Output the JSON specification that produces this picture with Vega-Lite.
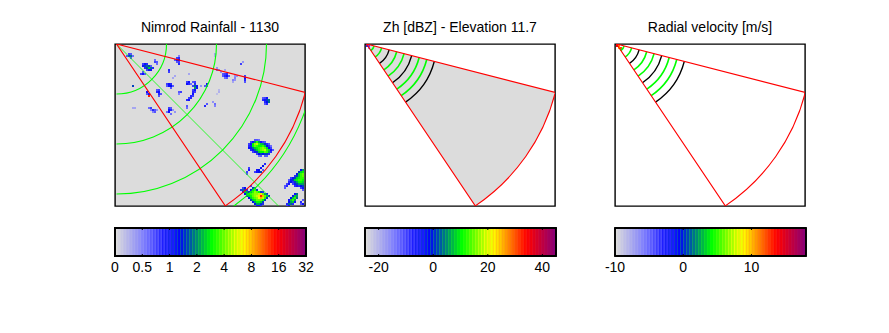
{"$schema":"https://vega.github.io/schema/vega-lite/v6.json","autosize":{"type":"none"},"padding":{"left":115,"top":44,"right":774,"bottom":289},"background":"white","bounds":"flush","spacing":250,"config":{"font":"Liberation Sans","title":{"font":"Liberation Sans","fontSize":14,"fontWeight":"normal","color":"black","offset":9},"axis":{"labelFont":"Liberation Sans"}},
"datasets":{
"bar":[{"l":0,"n":1},{"l":1,"n":2},{"l":2,"n":3},{"l":3,"n":4},{"l":4,"n":5},{"l":5,"n":6},{"l":6,"n":7},{"l":7,"n":8},{"l":8,"n":9},{"l":9,"n":10},{"l":10,"n":11},{"l":11,"n":12},{"l":12,"n":13},{"l":13,"n":14},{"l":14,"n":15},{"l":15,"n":16},{"l":16,"n":17},{"l":17,"n":18},{"l":18,"n":19},{"l":19,"n":20},{"l":20,"n":21},{"l":21,"n":22},{"l":22,"n":23},{"l":23,"n":24},{"l":24,"n":25},{"l":25,"n":26},{"l":26,"n":27},{"l":27,"n":28},{"l":28,"n":29},{"l":29,"n":30},{"l":30,"n":31},{"l":31,"n":32},{"l":32,"n":33},{"l":33,"n":34},{"l":34,"n":35},{"l":35,"n":36},{"l":36,"n":37},{"l":37,"n":38},{"l":38,"n":39},{"l":39,"n":40},{"l":40,"n":41},{"l":41,"n":42},{"l":42,"n":43},{"l":43,"n":44},{"l":44,"n":45},{"l":45,"n":46},{"l":46,"n":47},{"l":47,"n":48},{"l":48,"n":49},{"l":49,"n":50},{"l":50,"n":51},{"l":51,"n":52},{"l":52,"n":53},{"l":53,"n":54},{"l":54,"n":55},{"l":55,"n":56},{"l":56,"n":57},{"l":57,"n":58},{"l":58,"n":59},{"l":59,"n":60},{"l":60,"n":61},{"l":61,"n":62},{"l":62,"n":63},{"l":63,"n":64}],
"tRain":[{"p":0,"t":"0"},{"p":9.143,"t":"0.5"},{"p":18.286,"t":"1"},{"p":27.429,"t":"2"},{"p":36.571,"t":"4"},{"p":45.714,"t":"8"},{"p":54.857,"t":"16"},{"p":64,"t":"32"}],
"tZh":[{"p":4.571,"t":"-20"},{"p":22.857,"t":"0"},{"p":41.143,"t":"20"},{"p":59.429,"t":"40"}],
"tVel":[{"p":0,"t":"-10"},{"p":22.857,"t":"0"},{"p":45.714,"t":"10"}],
"ringsWide":[{"r":25},{"r":50},{"r":75},{"r":100}],
"ringsGreen":[{"r":3.9},{"r":7.8},{"r":15.6},{"r":19.4},{"r":27.2},{"r":31.1}],
"ringsBlack":[{"r":11.67},{"r":23.33},{"r":35}],
"sector":[{"r":97.5,"r0":0}],
"diag":[{"x":0.75,"y":0},{"x":82,"y":81.25}],
"zh":[{"x":1,"y":1,"v":18},{"x":2,"y":1,"v":14},{"x":2,"y":2,"v":8},{"x":1,"y":0,"v":20}],
"vel":[{"x":1,"y":0,"v":52},{"x":1,"y":1,"v":55},{"x":2,"y":1,"v":47},{"x":2,"y":2,"v":44},{"x":3,"y":2,"v":50},{"x":3,"y":3,"v":42}],
"rain":[
{"x":7,"y":5,"v":16},{"x":8,"y":5,"v":14},{"x":6,"y":6,"v":14},{"x":7,"y":6,"v":20},{"x":8,"y":6,"v":26},{"x":9,"y":6,"v":12},{"x":8,"y":7,"v":14},
{"x":14,"y":10,"v":16},{"x":15,"y":10,"v":20},{"x":16,"y":10,"v":18},{"x":14,"y":11,"v":20},{"x":15,"y":11,"v":24},{"x":16,"y":11,"v":26},{"x":17,"y":11,"v":24},{"x":18,"y":11,"v":14},{"x":15,"y":12,"v":18},{"x":16,"y":12,"v":24},{"x":17,"y":12,"v":30},{"x":18,"y":12,"v":26},{"x":19,"y":12,"v":18},{"x":16,"y":13,"v":16},{"x":17,"y":13,"v":22},{"x":18,"y":13,"v":20},{"x":13,"y":15,"v":16},{"x":14,"y":15,"v":20},{"x":15,"y":15,"v":14},{"x":14,"y":14,"v":14},
{"x":20,"y":8,"v":12},{"x":20,"y":9,"v":16},{"x":21,"y":9,"v":14},{"x":21,"y":10,"v":12},
{"x":31,"y":7,"v":16},{"x":32,"y":7,"v":18},{"x":30,"y":8,"v":14},{"x":31,"y":8,"v":20},{"x":32,"y":8,"v":22},{"x":32,"y":9,"v":16},{"x":31,"y":9,"v":14},{"x":32,"y":10,"v":18},{"x":32,"y":6,"v":10},
{"x":27,"y":13,"v":18},{"x":27,"y":14,"v":16},{"x":37,"y":15,"v":6},{"x":30,"y":16,"v":6},{"x":29,"y":17,"v":6},
{"x":26,"y":20,"v":16},{"x":27,"y":20,"v":20},{"x":28,"y":20,"v":18},{"x":26,"y":21,"v":14},{"x":27,"y":21,"v":20},{"x":28,"y":21,"v":22},{"x":29,"y":21,"v":14},{"x":28,"y":22,"v":14},
{"x":21,"y":23,"v":14},{"x":22,"y":23,"v":16},{"x":21,"y":24,"v":18},{"x":22,"y":24,"v":20},{"x":22,"y":25,"v":18},{"x":23,"y":25,"v":14},{"x":22,"y":26,"v":14},
{"x":16,"y":24,"v":20},{"x":17,"y":25,"v":20},{"x":16,"y":25,"v":14},{"x":17,"y":26,"v":52},
{"x":9,"y":21,"v":24},{"x":10,"y":32,"v":6},{"x":9,"y":32,"v":6},
{"x":17,"y":32,"v":12},{"x":18,"y":32,"v":16},{"x":19,"y":33,"v":18},{"x":20,"y":33,"v":14},{"x":18,"y":33,"v":10},{"x":20,"y":34,"v":14},{"x":19,"y":34,"v":10},{"x":21,"y":33,"v":8},
{"x":27,"y":32,"v":16},{"x":28,"y":32,"v":14},{"x":27,"y":33,"v":20},{"x":28,"y":33,"v":18},{"x":27,"y":34,"v":20},{"x":29,"y":33,"v":8},{"x":26,"y":34,"v":12},{"x":28,"y":35,"v":12},{"x":30,"y":34,"v":8},
{"x":36,"y":19,"v":16},{"x":37,"y":19,"v":20},{"x":36,"y":20,"v":20},{"x":37,"y":20,"v":18},{"x":38,"y":20,"v":12},{"x":39,"y":19,"v":14},{"x":40,"y":19,"v":16},{"x":40,"y":20,"v":18},{"x":39,"y":21,"v":16},{"x":40,"y":21,"v":26},{"x":41,"y":21,"v":20},{"x":40,"y":22,"v":28},{"x":41,"y":22,"v":20},{"x":39,"y":23,"v":16},{"x":40,"y":23,"v":20},{"x":39,"y":24,"v":18},{"x":40,"y":24,"v":16},{"x":39,"y":25,"v":20},{"x":38,"y":26,"v":18},{"x":39,"y":26,"v":16},{"x":37,"y":27,"v":16},{"x":38,"y":27,"v":18},{"x":36,"y":28,"v":18},{"x":37,"y":28,"v":20},{"x":36,"y":32,"v":12},{"x":36,"y":31,"v":14},
{"x":32,"y":24,"v":14},{"x":33,"y":24,"v":16},{"x":32,"y":25,"v":10},{"x":46,"y":20,"v":20},{"x":45,"y":21,"v":14},{"x":46,"y":21,"v":16},{"x":43,"y":21,"v":8},{"x":45,"y":31,"v":18},{"x":46,"y":30,"v":14},{"x":49,"y":29,"v":8},{"x":50,"y":30,"v":12},{"x":50,"y":31,"v":10},{"x":52,"y":23,"v":4},{"x":52,"y":24,"v":5},{"x":51,"y":25,"v":3},{"x":50,"y":5,"v":6},{"x":50,"y":6,"v":5},
{"x":51,"y":12,"v":8},{"x":52,"y":13,"v":10},{"x":51,"y":13,"v":12},{"x":53,"y":14,"v":8},{"x":55,"y":13,"v":6},{"x":54,"y":15,"v":14},{"x":55,"y":15,"v":16},{"x":56,"y":15,"v":18},{"x":54,"y":16,"v":14},{"x":55,"y":16,"v":18},{"x":56,"y":16,"v":20},{"x":57,"y":16,"v":14},{"x":55,"y":17,"v":12},{"x":56,"y":17,"v":14},
{"x":60,"y":16,"v":8},{"x":61,"y":16,"v":8},{"x":60,"y":17,"v":10},{"x":59,"y":18,"v":10},{"x":60,"y":18,"v":8},{"x":59,"y":19,"v":6},{"x":65,"y":16,"v":16},{"x":65,"y":17,"v":20},{"x":65,"y":18,"v":18},{"x":65,"y":19,"v":14},{"x":63,"y":10,"v":16},{"x":64,"y":9,"v":8},
{"x":74,"y":27,"v":14},{"x":75,"y":27,"v":16},{"x":76,"y":27,"v":20},{"x":74,"y":28,"v":18},{"x":75,"y":28,"v":20},{"x":76,"y":28,"v":24},{"x":77,"y":28,"v":26},{"x":75,"y":29,"v":18},{"x":76,"y":29,"v":22},{"x":77,"y":29,"v":26},{"x":75,"y":30,"v":14},{"x":76,"y":30,"v":18},
{"x":70,"y":48,"v":14},{"x":71,"y":48,"v":14},{"x":72,"y":48,"v":12},
{"x":68,"y":49,"v":16},{"x":69,"y":49,"v":20},{"x":70,"y":49,"v":28},{"x":71,"y":49,"v":34},{"x":72,"y":49,"v":28},{"x":73,"y":49,"v":20},{"x":74,"y":49,"v":16},{"x":75,"y":49,"v":14},
{"x":67,"y":50,"v":16},{"x":68,"y":50,"v":20},{"x":69,"y":50,"v":32},{"x":70,"y":50,"v":38},{"x":71,"y":50,"v":40},{"x":72,"y":50,"v":34},{"x":73,"y":50,"v":30},{"x":74,"y":50,"v":28},{"x":75,"y":50,"v":24},{"x":76,"y":50,"v":18},{"x":77,"y":50,"v":14},
{"x":67,"y":51,"v":18},{"x":68,"y":51,"v":24},{"x":69,"y":51,"v":32},{"x":70,"y":51,"v":36},{"x":71,"y":51,"v":34},{"x":72,"y":51,"v":32},{"x":73,"y":51,"v":32},{"x":74,"y":51,"v":34},{"x":75,"y":51,"v":30},{"x":76,"y":51,"v":22},{"x":77,"y":51,"v":18},{"x":78,"y":51,"v":12},
{"x":67,"y":52,"v":20},{"x":68,"y":52,"v":20},{"x":69,"y":52,"v":26},{"x":70,"y":52,"v":30},{"x":71,"y":52,"v":32},{"x":72,"y":52,"v":34},{"x":73,"y":52,"v":36},{"x":74,"y":52,"v":38},{"x":75,"y":52,"v":36},{"x":76,"y":52,"v":30},{"x":77,"y":52,"v":22},{"x":78,"y":52,"v":16},
{"x":68,"y":53,"v":18},{"x":69,"y":53,"v":20},{"x":70,"y":53,"v":26},{"x":71,"y":53,"v":30},{"x":72,"y":53,"v":34},{"x":73,"y":53,"v":36},{"x":74,"y":53,"v":38},{"x":75,"y":53,"v":40},{"x":76,"y":53,"v":34},{"x":77,"y":53,"v":30},{"x":78,"y":53,"v":20},{"x":79,"y":53,"v":14},
{"x":69,"y":54,"v":16},{"x":70,"y":54,"v":20},{"x":71,"y":54,"v":24},{"x":72,"y":54,"v":30},{"x":73,"y":54,"v":32},{"x":74,"y":54,"v":32},{"x":75,"y":54,"v":36},{"x":76,"y":54,"v":34},{"x":77,"y":54,"v":28},{"x":78,"y":54,"v":18},
{"x":71,"y":55,"v":16},{"x":72,"y":55,"v":22},{"x":73,"y":55,"v":24},{"x":74,"y":55,"v":22},{"x":75,"y":55,"v":24},{"x":76,"y":55,"v":24},{"x":77,"y":55,"v":18},
{"x":72,"y":56,"v":12},{"x":73,"y":56,"v":14},{"x":75,"y":56,"v":14},{"x":76,"y":56,"v":14},
{"x":67,"y":62,"v":16},{"x":67,"y":63,"v":20},{"x":66,"y":64,"v":16},{"x":66,"y":65,"v":14},{"x":75,"y":60,"v":18},{"x":74,"y":61,"v":22},{"x":73,"y":62,"v":20},{"x":71,"y":63,"v":20},{"x":72,"y":63,"v":22},{"x":74,"y":63,"v":14},{"x":70,"y":64,"v":16},{"x":71,"y":64,"v":20},{"x":72,"y":64,"v":22},{"x":73,"y":64,"v":24},
{"x":68,"y":71,"v":16},
{"x":64,"y":72,"v":16},{"x":65,"y":72,"v":22},{"x":69,"y":72,"v":24},{"x":70,"y":72,"v":28},
{"x":63,"y":73,"v":18},{"x":64,"y":73,"v":26},{"x":65,"y":73,"v":24},{"x":66,"y":73,"v":18},{"x":68,"y":73,"v":22},{"x":69,"y":73,"v":30},{"x":70,"y":73,"v":34},{"x":71,"y":73,"v":24},
{"x":64,"y":74,"v":20},{"x":65,"y":74,"v":30},{"x":66,"y":74,"v":28},{"x":67,"y":74,"v":24},{"x":68,"y":74,"v":28},{"x":69,"y":74,"v":34},{"x":70,"y":74,"v":38},{"x":71,"y":74,"v":36},{"x":72,"y":74,"v":32},{"x":73,"y":74,"v":24},{"x":74,"y":74,"v":18},
{"x":65,"y":75,"v":22},{"x":66,"y":75,"v":30},{"x":67,"y":75,"v":32},{"x":68,"y":75,"v":34},{"x":69,"y":75,"v":36},{"x":70,"y":75,"v":38},{"x":71,"y":75,"v":38},{"x":72,"y":75,"v":40},{"x":73,"y":75,"v":44},{"x":74,"y":75,"v":36},{"x":75,"y":75,"v":28},{"x":76,"y":75,"v":20},
{"x":66,"y":76,"v":24},{"x":67,"y":76,"v":30},{"x":68,"y":76,"v":32},{"x":69,"y":76,"v":36},{"x":70,"y":76,"v":38},{"x":71,"y":76,"v":40},{"x":72,"y":76,"v":44},{"x":73,"y":76,"v":52},{"x":74,"y":76,"v":46},{"x":75,"y":76,"v":36},{"x":76,"y":76,"v":30},{"x":77,"y":76,"v":20},
{"x":67,"y":77,"v":22},{"x":68,"y":77,"v":30},{"x":69,"y":77,"v":34},{"x":70,"y":77,"v":36},{"x":71,"y":77,"v":38},{"x":72,"y":77,"v":42},{"x":73,"y":77,"v":46},{"x":74,"y":77,"v":40},{"x":75,"y":77,"v":34},{"x":76,"y":77,"v":24},
{"x":68,"y":78,"v":24},{"x":69,"y":78,"v":30},{"x":70,"y":78,"v":32},{"x":71,"y":78,"v":36},{"x":72,"y":78,"v":36},{"x":73,"y":78,"v":36},{"x":74,"y":78,"v":32},{"x":75,"y":78,"v":24},
{"x":69,"y":79,"v":22},{"x":70,"y":79,"v":28},{"x":71,"y":79,"v":32},{"x":72,"y":79,"v":32},{"x":73,"y":79,"v":30},{"x":74,"y":79,"v":24},
{"x":70,"y":80,"v":22},{"x":71,"y":80,"v":28},{"x":72,"y":80,"v":28},{"x":73,"y":80,"v":24},{"x":74,"y":80,"v":18},{"x":71,"y":81,"v":20},{"x":72,"y":81,"v":20},{"x":73,"y":81,"v":18},
{"x":93,"y":63,"v":22},{"x":94,"y":63,"v":28},{"x":92,"y":64,"v":24},{"x":93,"y":64,"v":30},{"x":94,"y":64,"v":32},{"x":91,"y":65,"v":22},{"x":92,"y":65,"v":30},{"x":93,"y":65,"v":34},{"x":94,"y":65,"v":36},{"x":90,"y":66,"v":18},{"x":91,"y":66,"v":24},{"x":92,"y":66,"v":30},{"x":93,"y":66,"v":34},{"x":94,"y":66,"v":36},
{"x":88,"y":67,"v":16},{"x":89,"y":67,"v":20},{"x":90,"y":67,"v":24},{"x":91,"y":67,"v":30},{"x":92,"y":67,"v":32},{"x":93,"y":67,"v":34},{"x":94,"y":67,"v":34},
{"x":87,"y":68,"v":14},{"x":88,"y":68,"v":20},{"x":89,"y":68,"v":24},{"x":90,"y":68,"v":30},{"x":91,"y":68,"v":32},{"x":92,"y":68,"v":34},{"x":93,"y":68,"v":34},{"x":94,"y":68,"v":32},
{"x":87,"y":69,"v":18},{"x":88,"y":69,"v":22},{"x":89,"y":69,"v":18},{"x":90,"y":69,"v":24},{"x":91,"y":69,"v":28},{"x":92,"y":69,"v":32},{"x":93,"y":69,"v":32},{"x":94,"y":69,"v":30},
{"x":86,"y":70,"v":16},{"x":87,"y":70,"v":20},{"x":89,"y":70,"v":16},{"x":90,"y":70,"v":20},{"x":91,"y":70,"v":24},{"x":92,"y":70,"v":28},{"x":93,"y":70,"v":28},{"x":94,"y":70,"v":28},
{"x":85,"y":71,"v":14},{"x":86,"y":71,"v":18},{"x":90,"y":71,"v":18},{"x":91,"y":71,"v":20},{"x":92,"y":71,"v":18},{"x":93,"y":71,"v":22},{"x":94,"y":71,"v":24},{"x":85,"y":72,"v":14},{"x":93,"y":72,"v":16},{"x":94,"y":72,"v":20},{"x":94,"y":73,"v":14},
{"x":90,"y":75,"v":20},{"x":91,"y":75,"v":26},{"x":89,"y":76,"v":20},{"x":90,"y":76,"v":30},{"x":91,"y":76,"v":28},{"x":88,"y":77,"v":22},{"x":89,"y":77,"v":30},{"x":90,"y":77,"v":34},{"x":91,"y":77,"v":26},{"x":87,"y":78,"v":20},{"x":88,"y":78,"v":30},{"x":89,"y":78,"v":34},{"x":90,"y":78,"v":28},{"x":87,"y":79,"v":22},{"x":88,"y":79,"v":28},{"x":89,"y":79,"v":30},{"x":90,"y":79,"v":20},{"x":86,"y":80,"v":18},{"x":87,"y":80,"v":26},{"x":88,"y":80,"v":26},{"x":89,"y":80,"v":18},{"x":86,"y":81,"v":16},{"x":87,"y":81,"v":20},
{"x":94,"y":78,"v":14},{"x":93,"y":79,"v":18},{"x":94,"y":80,"v":20},{"x":93,"y":80,"v":14}
]},
"hconcat":[
{"bounds":"flush","spacing":22,"vconcat":[
{"title":"Nimrod Rainfall - 1130","width":190,"height":162,"view":{"fill":"#dcdcdc","stroke":"black","strokeWidth":1.4},
"layer":[
{"data":{"name":"rain"},"mark":{"type":"square","size":4,"opacity":1,"clip":true},"encoding":{"x":{"field":"x","type":"quantitative","scale":{"domain":[0,95],"nice":false,"zero":false},"axis":null},"y":{"field":"y","type":"quantitative","scale":{"domain":[0,81],"reverse":true,"nice":false,"zero":false},"axis":null},"color":{"field":"v","type":"quantitative","legend":null,"scale":{"interpolate":"rgb","domain":[0,11,20,30,40,55,64],"range":["#dcdcdc","#7a7aff","#0000ff","#00ff00","#ffff00","#ff0000","#800080"]}}}},
{"data":{"name":"ringsWide"},"mark":{"type":"arc","filled":false,"stroke":"#00ff00","strokeWidth":1.1,"clip":true},"encoding":{"x":{"datum":0.75,"type":"quantitative"},"y":{"datum":0,"type":"quantitative"},"theta":{"datum":90,"type":"quantitative","scale":{"domain":[0,360],"range":[0,6.2832]}},"theta2":{"datum":180},"radius":{"field":"r","type":"quantitative","scale":{"type":"linear","domain":[0,100],"range":[0,200]}},"radius2":{"field":"r"}}},
{"data":{"name":"diag"},"mark":{"type":"line","stroke":"#00ff00","strokeWidth":0.8,"clip":true},"encoding":{"x":{"field":"x","type":"quantitative"},"y":{"field":"y","type":"quantitative"}}},
{"data":{"name":"sector"},"mark":{"type":"arc","filled":false,"stroke":"#ff0000","strokeWidth":1.1,"clip":true},"encoding":{"x":{"datum":0.75,"type":"quantitative"},"y":{"datum":0,"type":"quantitative"},"theta":{"datum":104.4,"type":"quantitative","scale":{"domain":[0,360],"range":[0,6.2832]}},"theta2":{"datum":146.1},"radius":{"field":"r","type":"quantitative","scale":{"type":"linear","domain":[0,100],"range":[0,200]}},"radius2":{"field":"r0"}}}
]},
{"width":191,"height":28,"view":{"stroke":null},"layer":[
{"data":{"name":"bar"},"mark":{"type":"rect","strokeWidth":0.7},"encoding":{"x":{"field":"l","type":"quantitative","scale":{"domain":[0,64],"nice":false,"zero":false},"axis":null},"x2":{"field":"n"},"color":{"field":"l","type":"quantitative","legend":null,"scale":{"interpolate":"rgb","domain":[0,9,16,32,40,55,64],"range":["#dcdcdc","#7a7aff","#0000ff","#00ff00","#ffff00","#ff0000","#800080"]}},"stroke":{"field":"l","type":"quantitative","legend":null,"scale":{"interpolate":"rgb","domain":[0,9,16,32,40,55,64],"range":["#dcdcdc","#7a7aff","#0000ff","#00ff00","#ffff00","#ff0000","#800080"]}}}},
{"data":{"name":"tRain"},"mark":{"type":"rule","color":"black","strokeWidth":1},"encoding":{"x":{"field":"p","type":"quantitative"},"y":{"datum":0,"type":"quantitative","scale":{"domain":[0,28],"reverse":true,"nice":false,"zero":false},"axis":null},"y2":{"datum":2}}},
{"data":{"name":"tRain"},"mark":{"type":"rule","color":"black","strokeWidth":1},"encoding":{"x":{"field":"p","type":"quantitative"},"y":{"datum":26,"type":"quantitative"},"y2":{"datum":28}}},
{"data":{"name":"tRain"},"mark":{"type":"text","color":"black","font":"Liberation Sans","fontSize":14,"baseline":"middle"},"encoding":{"x":{"field":"p","type":"quantitative"},"y":{"datum":40,"type":"quantitative"},"text":{"field":"t","type":"nominal"}}},
{"data":{"name":"tRain"},"mark":{"type":"rect","filled":false,"stroke":"black","strokeWidth":1.3},"encoding":{"x":{"datum":0,"type":"quantitative"},"x2":{"datum":64}}}
]}
]},
{"bounds":"flush","spacing":22,"vconcat":[
{"title":"Zh [dBZ] - Elevation 11.7","width":190,"height":162,"view":{"stroke":"black","strokeWidth":1.4},
"layer":[
{"data":{"name":"sector"},"mark":{"type":"arc","fill":"#dcdcdc","stroke":null,"clip":true},"encoding":{"x":{"datum":0.75,"type":"quantitative","scale":{"domain":[0,95],"nice":false,"zero":false},"axis":null},"y":{"datum":0,"type":"quantitative","scale":{"domain":[0,81],"reverse":true,"nice":false,"zero":false},"axis":null},"theta":{"datum":104.4,"type":"quantitative","scale":{"domain":[0,360],"range":[0,6.2832]}},"theta2":{"datum":146.1},"radius":{"field":"r","type":"quantitative","scale":{"type":"linear","domain":[0,100],"range":[0,200]}},"radius2":{"field":"r0"}}},
{"data":{"name":"zh"},"mark":{"type":"square","size":4,"opacity":1,"clip":true},"encoding":{"x":{"field":"x","type":"quantitative"},"y":{"field":"y","type":"quantitative"},"color":{"field":"v","type":"quantitative","legend":null,"scale":{"interpolate":"rgb","domain":[0,9,16,32,40,55,64],"range":["#dcdcdc","#7a7aff","#0000ff","#00ff00","#ffff00","#ff0000","#800080"]}}}},
{"data":{"name":"ringsGreen"},"mark":{"type":"arc","filled":false,"stroke":"#00ff00","strokeWidth":1.6,"clip":true},"encoding":{"x":{"datum":0.75,"type":"quantitative"},"y":{"datum":0,"type":"quantitative"},"theta":{"datum":104.4,"type":"quantitative"},"theta2":{"datum":146.1},"radius":{"field":"r","type":"quantitative"},"radius2":{"field":"r"}}},
{"data":{"name":"ringsBlack"},"mark":{"type":"arc","filled":false,"stroke":"black","strokeWidth":1.4,"clip":true},"encoding":{"x":{"datum":0.75,"type":"quantitative"},"y":{"datum":0,"type":"quantitative"},"theta":{"datum":104.4,"type":"quantitative"},"theta2":{"datum":146.1},"radius":{"field":"r","type":"quantitative"},"radius2":{"field":"r"}}},
{"data":{"name":"sector"},"mark":{"type":"arc","filled":false,"stroke":"#ff0000","strokeWidth":1.1,"clip":true},"encoding":{"x":{"datum":0.75,"type":"quantitative"},"y":{"datum":0,"type":"quantitative"},"theta":{"datum":104.4,"type":"quantitative"},"theta2":{"datum":146.1},"radius":{"field":"r","type":"quantitative"},"radius2":{"field":"r0"}}}
]},
{"width":191,"height":28,"view":{"stroke":null},"layer":[
{"data":{"name":"bar"},"mark":{"type":"rect","strokeWidth":0.7},"encoding":{"x":{"field":"l","type":"quantitative","scale":{"domain":[0,64],"nice":false,"zero":false},"axis":null},"x2":{"field":"n"},"color":{"field":"l","type":"quantitative","legend":null,"scale":{"interpolate":"rgb","domain":[0,9,16,32,40,55,64],"range":["#dcdcdc","#7a7aff","#0000ff","#00ff00","#ffff00","#ff0000","#800080"]}},"stroke":{"field":"l","type":"quantitative","legend":null,"scale":{"interpolate":"rgb","domain":[0,9,16,32,40,55,64],"range":["#dcdcdc","#7a7aff","#0000ff","#00ff00","#ffff00","#ff0000","#800080"]}}}},
{"data":{"name":"tZh"},"mark":{"type":"rule","color":"black","strokeWidth":1},"encoding":{"x":{"field":"p","type":"quantitative"},"y":{"datum":0,"type":"quantitative","scale":{"domain":[0,28],"reverse":true,"nice":false,"zero":false},"axis":null},"y2":{"datum":2}}},
{"data":{"name":"tZh"},"mark":{"type":"rule","color":"black","strokeWidth":1},"encoding":{"x":{"field":"p","type":"quantitative"},"y":{"datum":26,"type":"quantitative"},"y2":{"datum":28}}},
{"data":{"name":"tZh"},"mark":{"type":"text","color":"black","font":"Liberation Sans","fontSize":14,"baseline":"middle"},"encoding":{"x":{"field":"p","type":"quantitative"},"y":{"datum":40,"type":"quantitative"},"text":{"field":"t","type":"nominal"}}},
{"data":{"name":"tZh"},"mark":{"type":"rect","filled":false,"stroke":"black","strokeWidth":1.3},"encoding":{"x":{"datum":0,"type":"quantitative"},"x2":{"datum":64}}}
]}
]},
{"bounds":"flush","spacing":22,"vconcat":[
{"title":"Radial velocity [m/s]","width":190,"height":162,"view":{"stroke":"black","strokeWidth":1.4},
"layer":[
{"data":{"name":"vel"},"mark":{"type":"square","size":4,"opacity":1,"clip":true},"encoding":{"x":{"field":"x","type":"quantitative","scale":{"domain":[0,95],"nice":false,"zero":false},"axis":null},"y":{"field":"y","type":"quantitative","scale":{"domain":[0,81],"reverse":true,"nice":false,"zero":false},"axis":null},"color":{"field":"v","type":"quantitative","legend":null,"scale":{"interpolate":"rgb","domain":[0,9,16,32,40,55,64],"range":["#dcdcdc","#7a7aff","#0000ff","#00ff00","#ffff00","#ff0000","#800080"]}}}},
{"data":{"name":"ringsGreen"},"mark":{"type":"arc","filled":false,"stroke":"#00ff00","strokeWidth":1.6,"clip":true},"encoding":{"x":{"datum":0.75,"type":"quantitative"},"y":{"datum":0,"type":"quantitative"},"theta":{"datum":104.4,"type":"quantitative","scale":{"domain":[0,360],"range":[0,6.2832]}},"theta2":{"datum":146.1},"radius":{"field":"r","type":"quantitative","scale":{"type":"linear","domain":[0,100],"range":[0,200]}},"radius2":{"field":"r"}}},
{"data":{"name":"ringsBlack"},"mark":{"type":"arc","filled":false,"stroke":"black","strokeWidth":1.4,"clip":true},"encoding":{"x":{"datum":0.75,"type":"quantitative"},"y":{"datum":0,"type":"quantitative"},"theta":{"datum":104.4,"type":"quantitative"},"theta2":{"datum":146.1},"radius":{"field":"r","type":"quantitative"},"radius2":{"field":"r"}}},
{"data":{"name":"sector"},"mark":{"type":"arc","filled":false,"stroke":"#ff0000","strokeWidth":1.1,"clip":true},"encoding":{"x":{"datum":0.75,"type":"quantitative"},"y":{"datum":0,"type":"quantitative"},"theta":{"datum":104.4,"type":"quantitative"},"theta2":{"datum":146.1},"radius":{"field":"r","type":"quantitative"},"radius2":{"field":"r0"}}}
]},
{"width":191,"height":28,"view":{"stroke":null},"layer":[
{"data":{"name":"bar"},"mark":{"type":"rect","strokeWidth":0.7},"encoding":{"x":{"field":"l","type":"quantitative","scale":{"domain":[0,64],"nice":false,"zero":false},"axis":null},"x2":{"field":"n"},"color":{"field":"l","type":"quantitative","legend":null,"scale":{"interpolate":"rgb","domain":[0,9,16,32,40,55,64],"range":["#dcdcdc","#7a7aff","#0000ff","#00ff00","#ffff00","#ff0000","#800080"]}},"stroke":{"field":"l","type":"quantitative","legend":null,"scale":{"interpolate":"rgb","domain":[0,9,16,32,40,55,64],"range":["#dcdcdc","#7a7aff","#0000ff","#00ff00","#ffff00","#ff0000","#800080"]}}}},
{"data":{"name":"tVel"},"mark":{"type":"rule","color":"black","strokeWidth":1},"encoding":{"x":{"field":"p","type":"quantitative"},"y":{"datum":0,"type":"quantitative","scale":{"domain":[0,28],"reverse":true,"nice":false,"zero":false},"axis":null},"y2":{"datum":2}}},
{"data":{"name":"tVel"},"mark":{"type":"rule","color":"black","strokeWidth":1},"encoding":{"x":{"field":"p","type":"quantitative"},"y":{"datum":26,"type":"quantitative"},"y2":{"datum":28}}},
{"data":{"name":"tVel"},"mark":{"type":"text","color":"black","font":"Liberation Sans","fontSize":14,"baseline":"middle"},"encoding":{"x":{"field":"p","type":"quantitative"},"y":{"datum":40,"type":"quantitative"},"text":{"field":"t","type":"nominal"}}},
{"data":{"name":"tVel"},"mark":{"type":"rect","filled":false,"stroke":"black","strokeWidth":1.3},"encoding":{"x":{"datum":0,"type":"quantitative"},"x2":{"datum":64}}}
]}
]}
]}
